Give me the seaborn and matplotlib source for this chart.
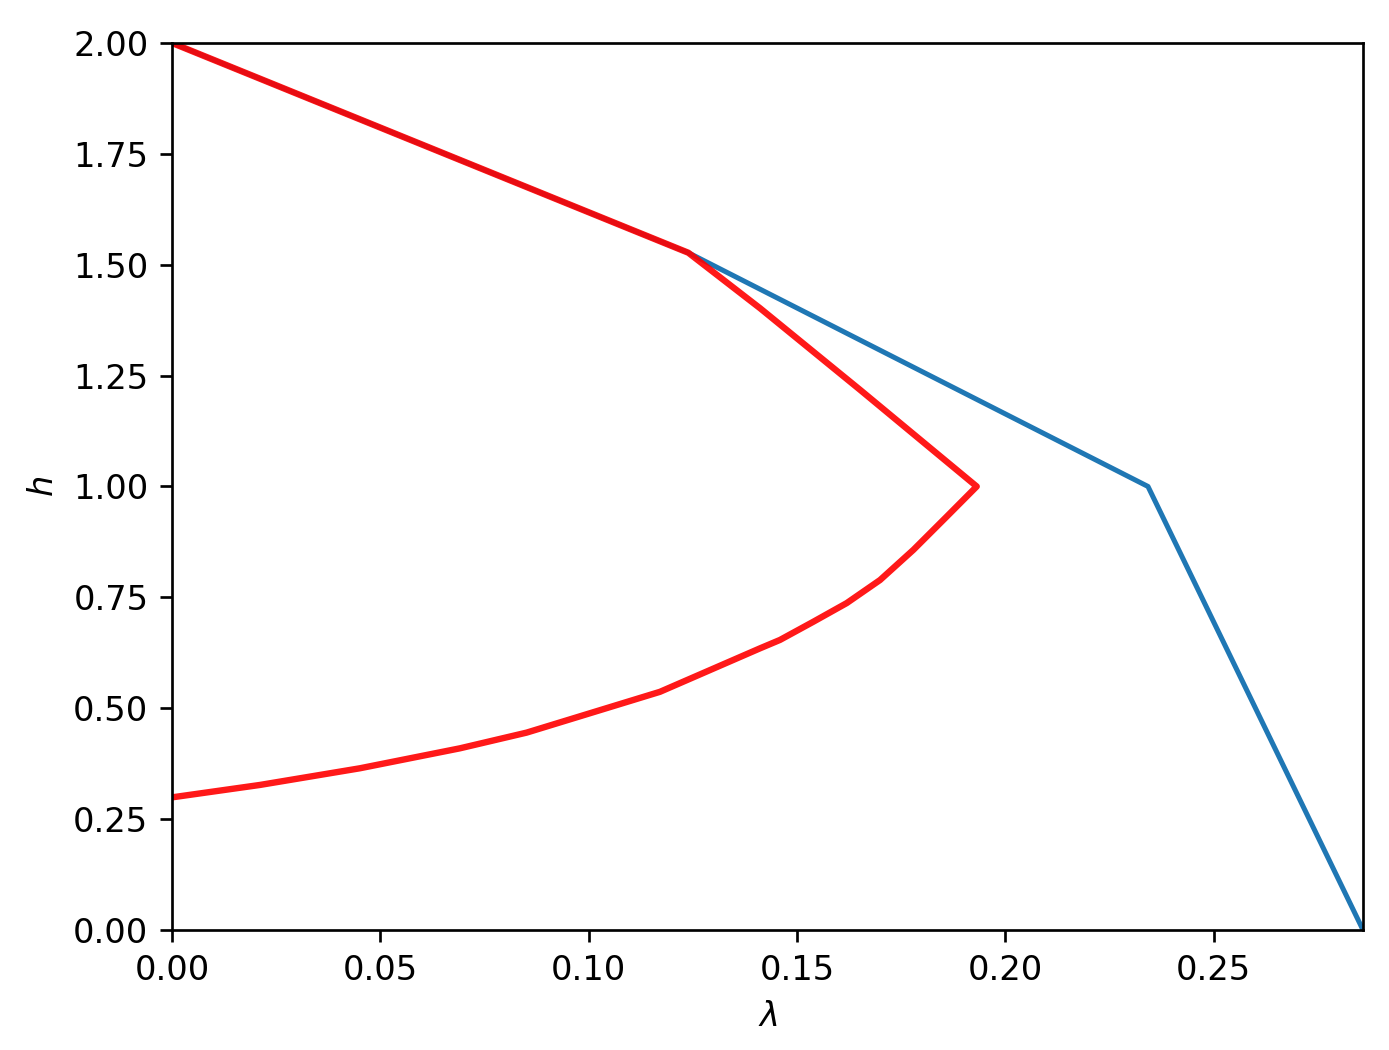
import matplotlib
matplotlib.use("Agg")
import matplotlib.pyplot as plt
import numpy as np
import seaborn as sns

# blue branch (lambda, h)
blue_lam = [0.0, 0.1239, 0.2342, 0.2858]
blue_h = [2.0, 1.527, 1.0, 0.0]

# red branch: straight upper part, then the curved lower part back to lambda = 0
red_lam = [0.0, 0.1239, 0.1411, 0.1651, 0.1931,
           0.1859, 0.1779, 0.1699, 0.1619, 0.1539, 0.1459, 0.1411,
           0.1171, 0.0971, 0.0851, 0.0691, 0.0451, 0.0211, 0.0]
red_h = [2.0, 1.527, 1.402, 1.218, 1.0,
         0.932, 0.857, 0.789, 0.737, 0.695, 0.654, 0.635,
         0.537, 0.4795, 0.445, 0.4096, 0.3646, 0.327, 0.299]

DPI = 242
fig = plt.figure(figsize=(1389 / DPI, 1050 / DPI), dpi=DPI)
ax = fig.add_axes([0.1238, 0.1143, 0.8575, 0.8448])

sns.lineplot(x=blue_lam, y=blue_h, ax=ax, sort=False, estimator=None,
             color="#1f77b4", linewidth=1.5)
sns.lineplot(x=red_lam, y=red_h, ax=ax, sort=False, estimator=None,
             color="red", linewidth=1.9, alpha=0.9)

ax.set_xlim(0, 0.2858)
ax.set_ylim(0, 2)
ax.set_xticks([0.0, 0.05, 0.10, 0.15, 0.20, 0.25])
ax.set_yticks(np.arange(0, 2.01, 0.25))
ax.xaxis.set_major_formatter(matplotlib.ticker.FormatStrFormatter("%.2f"))
ax.yaxis.set_major_formatter(matplotlib.ticker.FormatStrFormatter("%.2f"))
ax.set_xlabel(r"$\lambda$")
ax.set_ylabel(r"$h$")

fig.savefig("out.png", dpi=DPI)
